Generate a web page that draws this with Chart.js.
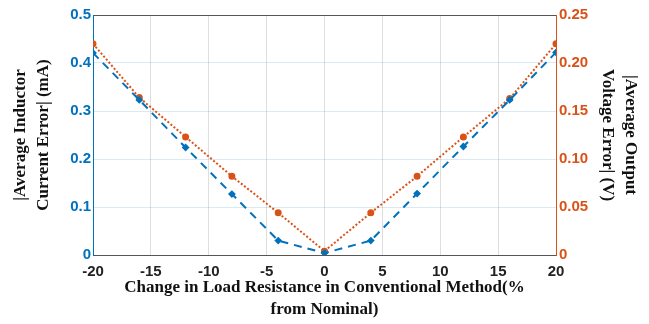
<!DOCTYPE html>
<html>
<head>
<meta charset="utf-8">
<script src="https://cdn.jsdelivr.net/npm/chart.js@4/dist/chart.umd.min.js"></script>
<style>
  html, body { margin: 0; padding: 0; background: #fff; }
  #wrap { width: 649px; height: 324px; position: relative; }
</style>
</head>
<body>
<div id="wrap"><canvas id="errChart"></canvas></div>
<script>
// load resistance change (% from nominal)
const loadChange = [-20, -16, -12, -8, -4, 0, 4, 8, 12, 16, 20];
// |average inductor current error| in mA (left axis)
const currentError = [0.421, 0.323, 0.224, 0.127, 0.030, 0.004, 0.030, 0.128, 0.226, 0.323, 0.422];
// |average output voltage error| in V (right axis)
const voltageError = [0.220, 0.164, 0.123, 0.082, 0.044, 0.004, 0.044, 0.082, 0.123, 0.163, 0.220];
const xTicks = [-20, -15, -10, -5, 0, 5, 10, 15, 20];

const blue = '#0072BD';
const red = '#D95319';
const tickFont = { family: 'Liberation Sans', size: 15, weight: 'bold' };
const titleFont = { family: 'Liberation Serif', size: 17, weight: 'bold', lineHeight: 1.3 };

const toPoints = (ys) => ys.map((y, i) => ({ x: loadChange[i], y: y }));

const ctx = document.getElementById('errChart').getContext('2d');
const errChart = new Chart(ctx, {
    type: 'line',
    data: {
        datasets: [{
            label: 'Current error',
            data: toPoints(currentError),
            yAxisID: 'yI',
            borderColor: blue,
            backgroundColor: blue,
            borderWidth: 2,
            borderDash: [8, 6],
            pointStyle: 'rectRot',
            pointRadius: 2.5,
            tension: 0
        }, {
            label: 'Voltage error',
            data: toPoints(voltageError),
            yAxisID: 'yV',
            borderColor: red,
            backgroundColor: red,
            borderWidth: 2,
            borderDash: [2, 2],
            pointStyle: 'circle',
            pointRadius: 2.5,
            tension: 0
        }]
    },
    options: {
        responsive: true,
        maintainAspectRatio: false,
        animation: false,
        layout: { padding: { top: 15, left: 0, right: 0, bottom: 0 } },
        plugins: { legend: { display: false }, tooltip: { enabled: false } },
        scales: {
            x: {
                type: 'linear',
                position: 'bottom',
                min: -20,
                max: 20,
                afterBuildTicks: (axis) => { axis.ticks = xTicks.map(v => ({ value: v })); },
                afterFit: (axis) => { axis.height = 69; },
                ticks: { color: '#222', font: tickFont, padding: 8, maxRotation: 0 },
                grid: { color: 'rgba(0,0,0,0.13)', drawTicks: false },
                border: { color: '#555', width: 1 },
                title: {
                    display: true,
                    text: ['Change in Load Resistance in Conventional Method(%', 'from Nominal)'],
                    color: '#111',
                    font: titleFont,
                    padding: { top: 0, bottom: 3 }
                }
            },
            xTop: {
                type: 'linear',
                position: 'top',
                min: -20,
                max: 20,
                afterFit: (axis) => { axis.height = 0; },
                ticks: { display: false },
                grid: { display: false },
                border: { color: '#555', width: 1 }
            },
            yI: {
                position: 'left',
                min: 0,
                max: 0.5,
                afterFit: (axis) => { axis.width = 93; },
                ticks: { stepSize: 0.1, color: blue, font: tickFont, padding: 2 },
                grid: { color: 'rgba(0,114,189,0.15)', drawTicks: false },
                border: { color: blue, width: 1 },
                title: {
                    display: true,
                    text: ['|Average Inductor', 'Current Error| (mA)'],
                    color: '#111',
                    font: titleFont,
                    padding: { top: 10, bottom: 0 }
                }
            },
            yV: {
                position: 'right',
                min: 0,
                max: 0.25,
                afterFit: (axis) => { axis.width = 93; },
                ticks: { stepSize: 0.05, color: red, font: tickFont, padding: 3 },
                grid: { display: false, drawTicks: false },
                border: { color: red, width: 1 },
                title: {
                    display: true,
                    text: ['|Average Output', 'Voltage Error| (V)'],
                    color: '#111',
                    font: titleFont,
                    padding: { top: 8, bottom: 0 }
                }
            }
        }
    }
});
</script>
</body>
</html>
